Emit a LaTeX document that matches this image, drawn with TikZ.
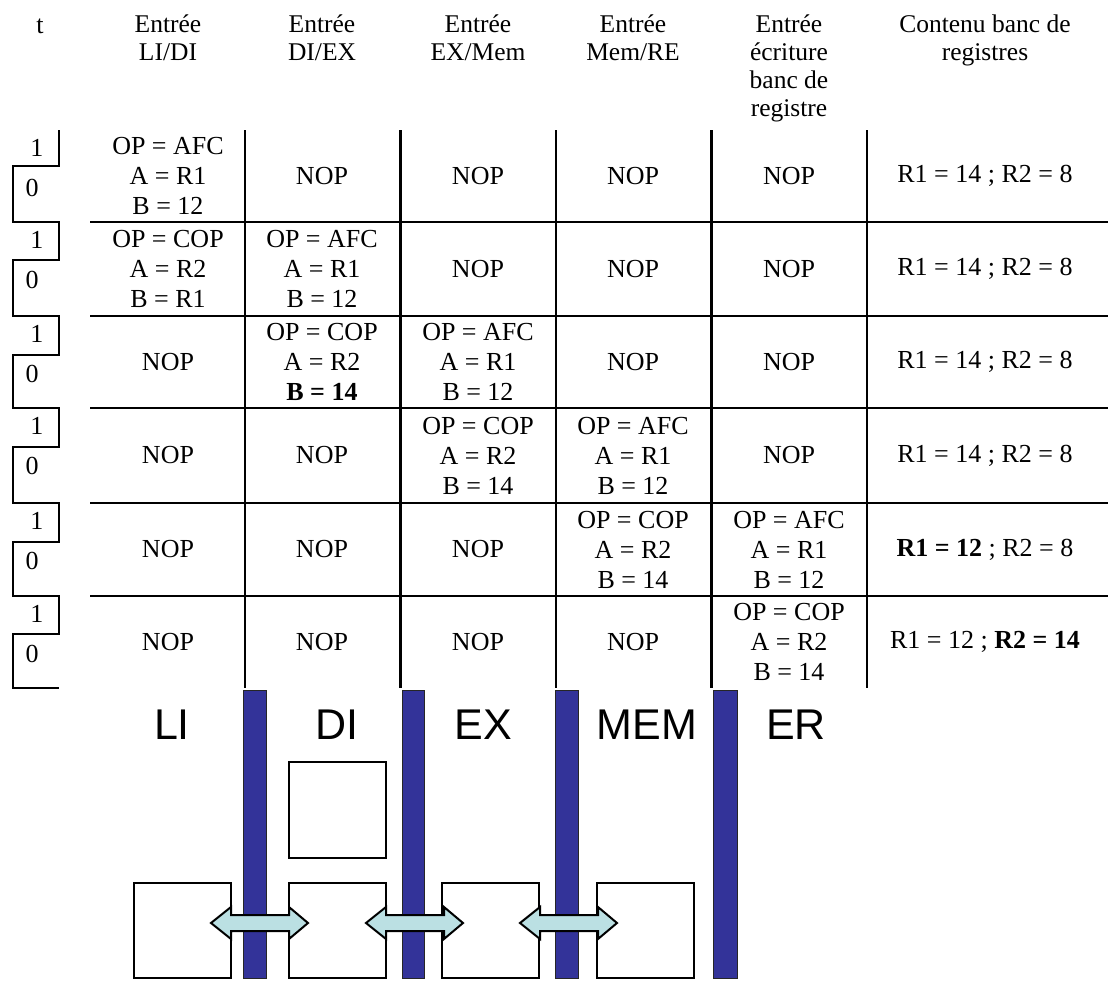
\documentclass[tikz,border=0pt]{standalone}
\usepackage{fontspec}
\setmainfont{Liberation Serif}
\newfontfamily\arialf{Liberation Sans}
\definecolor{barblue}{RGB}{51,51,153}
\definecolor{arrowcyan}{RGB}{187,224,227}
\begin{document}
\begin{tikzpicture}[x=1pt,y=-1pt,
  grid/.style={line width=2.5pt},
  cell/.style={inner sep=0pt, align=center, font=\fontsize{26}{30}\selectfont},
  head/.style={inner sep=0pt, align=center, anchor=north, font=\fontsize{25.5}{28}\selectfont},
  stage/.style={anchor=base, inner sep=0pt, font=\arialf\fontsize{43}{50}\selectfont},
  reg/.style={draw=black!85, line width=1pt, fill=barblue, inner sep=0pt, minimum height=288pt},
  box/.style={draw=black, line width=2pt, fill=white, inner sep=0pt, minimum width=97pt, minimum height=95pt},
  dbl/.style={draw=black, line width=2pt, fill=arrowcyan, line join=miter}
]
\useasboundingbox (0,0) rectangle (1108,983);

% headers
\node[anchor=base, inner sep=0pt, font=\fontsize{26}{30}\selectfont] (t) at (40,33) {t};
\node[head] (h1) at (168,15) {Entrée\\LI/DI};
\node[head] (h2) at (322,15) {Entrée\\DI/EX};
\node[head] (h3) at (478,15) {Entrée\\EX/Mem};
\node[head] (h4) at (633,15) {Entrée\\Mem/RE};
\node[head] (h5) at (789,15) {Entrée\\écriture\\banc de\\registre};
\node[head] (h6) at (985,15) {Contenu banc de\\registres};

% grid
\foreach \x in {245,400.5,556,711.5,867} \draw[grid] (\x,130) -- (\x,688);
\foreach \y in {222,316,408,503,596} \draw[grid] (90,\y) -- (1108,\y);

% clock
\draw[grid, line join=miter]
  (59,130) -- (59,166) -- (13,166) -- (13,222)
  -- (59,222) -- (59,260) -- (13,260) -- (13,316)
  -- (59,316) -- (59,355) -- (13,355) -- (13,408)
  -- (59,408) -- (59,447) -- (13,447) -- (13,503)
  -- (59,503) -- (59,542) -- (13,542) -- (13,596)
  -- (59,596) -- (59,634) -- (13,634) -- (13,688) -- (59,688);
\foreach \T [count=\i] in {130,222,316,408,503,596}{
  \node[cell] (c1-\i) at (37,\T+18) {1};
  \node[cell] (c0-\i) at (32,\T+58) {0};
}

% row 1
\node[cell] (r1c1) at (168,176) {OP = AFC\\A = R1\\B = 12};
\node[cell] (r1c2) at (322,176) {NOP};
\node[cell] (r1c3) at (478,176) {NOP};
\node[cell] (r1c4) at (633,176) {NOP};
\node[cell] (r1c5) at (789,176) {NOP};
\node[cell] (r1c6) at (985,176) {R1 = 14 ; R2 = 8};
% row 2
\node[cell] (r2c1) at (168,269) {OP = COP\\A = R2\\B = R1};
\node[cell] (r2c2) at (322,269) {OP = AFC\\A = R1\\B = 12};
\node[cell] (r2c3) at (478,269) {NOP};
\node[cell] (r2c4) at (633,269) {NOP};
\node[cell] (r2c5) at (789,269) {NOP};
\node[cell] (r2c6) at (985,269) {R1 = 14 ; R2 = 8};
% row 3
\node[cell] (r3c1) at (168,362) {NOP};
\node[cell] (r3c2) at (322,362) {OP = COP\\A = R2\\\textbf{B = 14}};
\node[cell] (r3c3) at (478,362) {OP = AFC\\A = R1\\B = 12};
\node[cell] (r3c4) at (633,362) {NOP};
\node[cell] (r3c5) at (789,362) {NOP};
\node[cell] (r3c6) at (985,362) {R1 = 14 ; R2 = 8};
% row 4
\node[cell] (r4c1) at (168,455.5) {NOP};
\node[cell] (r4c2) at (322,455.5) {NOP};
\node[cell] (r4c3) at (478,455.5) {OP = COP\\A = R2\\B = 14};
\node[cell] (r4c4) at (633,455.5) {OP = AFC\\A = R1\\B = 12};
\node[cell] (r4c5) at (789,455.5) {NOP};
\node[cell] (r4c6) at (985,455.5) {R1 = 14 ; R2 = 8};
% row 5
\node[cell] (r5c1) at (168,549.5) {NOP};
\node[cell] (r5c2) at (322,549.5) {NOP};
\node[cell] (r5c3) at (478,549.5) {NOP};
\node[cell] (r5c4) at (633,549.5) {OP = COP\\A = R2\\B = 14};
\node[cell] (r5c5) at (789,549.5) {OP = AFC\\A = R1\\B = 12};
\node[cell] (r5c6) at (985,549.5) {\textbf{R1 = 12} ; R2 = 8};
% row 6
\node[cell] (r6c1) at (168,642) {NOP};
\node[cell] (r6c2) at (322,642) {NOP};
\node[cell] (r6c3) at (478,642) {NOP};
\node[cell] (r6c4) at (633,642) {NOP};
\node[cell] (r6c5) at (789,642) {OP = COP\\A = R2\\B = 14};
\node[cell] (r6c6) at (985,642) {R1 = 12 ; \textbf{R2 = 14}};

% pipeline stages
\node[stage] (sLI)  at (172,739) {LI};
\node[stage] (sDI)  at (337,739) {DI};
\node[stage] (sEX)  at (483,739) {EX};
\node[stage] (sMEM) at (647,739) {MEM};
\node[stage] (sER)  at (796,739) {ER};

\node[box] (b1) at (182.5,930.5) {};
\node[box] (b2) at (337.5,930.5) {};
\node[box] (b3) at (490.5,930.5) {};
\node[box] (b4) at (645,930.5) {};
\node[box, minimum height=96pt] (bup) at (337.5,810) {};

\node[reg, minimum width=23pt] (p1) at (254.5,834) {};
\node[reg, minimum width=22pt] (p2) at (413,834) {};
\node[reg, minimum width=23pt] (p3) at (566.5,834) {};
\node[reg, minimum width=24pt] (p4) at (725,834) {};

\foreach \a in {211,366,520}{
  \draw[dbl] (\a,923) -- (\a+20,907) -- (\a+20,915) -- (\a+78,915) -- (\a+78,907)
    -- (\a+97,923) -- (\a+78,939) -- (\a+78,931) -- (\a+20,931) -- (\a+20,939) -- cycle;
}
\end{tikzpicture}
\end{document}
